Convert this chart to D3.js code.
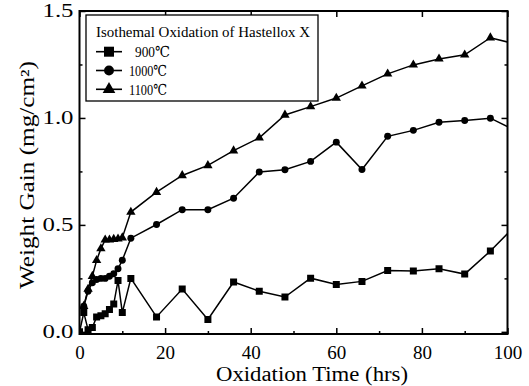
<!DOCTYPE html>
<html><head><meta charset="utf-8">
<script src="https://cdn.jsdelivr.net/npm/d3@7"></script>
<style>body{margin:0;background:#fff}svg{display:block}svg text{fill:#000}</style>
</head><body><div id="chart"></div>
<script>
const times900 = [0,1,2,3,4,5,6,7,8,9,10,12,18,24,30,36,42,48,54,60,66,72,78,84,90,96,102];
const values900 = [0,0.09,0.01,0.02,0.07,0.075,0.085,0.105,0.13,0.24,0.09,0.25,0.07,0.20,0.058,0.233,0.19,0.163,0.251,0.221,0.236,0.287,0.284,0.295,0.270,0.378,0.50];
const times1000 = [1,2,3,4,5,6,7,8,9,10,12,18,24,30,36,42,48,54,60,66,72,78,84,90,96,102];
const values1000 = [0.12,0.19,0.23,0.245,0.25,0.25,0.26,0.272,0.295,0.335,0.438,0.502,0.571,0.571,0.625,0.747,0.758,0.797,0.887,0.759,0.914,0.942,0.98,0.988,0.999,0.94];
const times1100 = [1,2,3,4,5,6,7,8,9,10,12,18,24,30,36,42,48,54,60,66,72,78,84,90,96,102];
const values1100 = [0.12,0.2,0.26,0.334,0.389,0.43,0.43,0.433,0.435,0.44,0.56,0.653,0.731,0.778,0.847,0.907,1.014,1.053,1.093,1.15,1.206,1.248,1.276,1.295,1.375,1.345];
const seriesNames = ["900\u2103","1000\u2103","1100\u2103"];
const seriesSymbols = ["square","circle","triangle"];
const xTicks = [0,20,40,60,80,100];
const yTicks = [0,0.5,1.0,1.5];
const yMinorTicks = [0.25,0.75,1.25];
const xMinorTicks = [10,30,50,70,90];
const legendTitle = "Isothemal Oxidation of Hastellox X";
const xTitle = "Oxidation Time (hrs)";
const yTitle = "Weight Gain (mg/cm\u00B2)";

const FONT = "'Liberation Serif','Times New Roman',Times,'DejaVu Serif',serif";
const W = 529, H = 386;
const m = {left:79.5, top:11, right:21.5, bottom:52};
const svg = d3.select("#chart").append("svg").attr("width",W).attr("height",H);
const x = d3.scaleLinear().domain([0,100]).range([m.left, W-m.right]);
const y = d3.scaleLinear().domain([-0.01,1.5]).range([H-m.bottom, m.top]);

svg.append("clipPath").attr("id","clip").append("rect")
  .attr("x",x(0)).attr("y",y(1.5)).attr("width",x(100)-x(0)).attr("height",y(-0.01)-y(1.5));

const series = [
  {t:times900, v:values900},
  {t:times1000, v:values1000},
  {t:times1100, v:values1100}
];
const symMap = {square:d3.symbolSquare, circle:d3.symbolCircle, triangle:d3.symbolTriangle};
const symSize = {square:49, circle:38, triangle:38};

const line = d3.line().x(d=>x(d[0])).y(d=>y(d[1]));
const g = svg.append("g").attr("clip-path","url(#clip)");
series.forEach((s,i)=>{
  const pts = s.t.map((t,j)=>[t,s.v[j]]);
  g.append("path").datum(pts).attr("d",line).attr("fill","none").attr("stroke","#000").attr("stroke-width",1.5);
  g.selectAll(null).data(pts).enter().append("path")
    .attr("transform",d=>`translate(${x(d[0])},${y(d[1])})`)
    .attr("d",d3.symbol().type(symMap[seriesSymbols[i]]).size(symSize[seriesSymbols[i]]))
    .attr("fill","#000");
});

const axB = d3.axisBottom(x).tickValues(xTicks).tickSize(-6).tickPadding(12).tickFormat(d3.format("d"));
const axL = d3.axisLeft(y).tickValues(yTicks).tickSize(-6).tickPadding(6).tickFormat(d3.format(".1f"));
const gb = svg.append("g").attr("transform",`translate(0,${y(-0.01)})`).call(axB);
const gl = svg.append("g").attr("transform",`translate(${x(0)},0)`).call(axL);
svg.append("g").attr("transform",`translate(0,${y(-0.01)})`).call(d3.axisBottom(x).tickValues(xMinorTicks).tickSize(-3).tickFormat(""));
svg.append("g").attr("transform",`translate(${x(0)},0)`).call(d3.axisLeft(y).tickValues(yMinorTicks).tickSize(-3).tickFormat(""));
svg.append("g").attr("transform",`translate(${x(100)},0)`).call(d3.axisRight(y).tickValues(yTicks).tickSize(-6).tickFormat(""));
svg.append("g").attr("transform",`translate(${x(100)},0)`).call(d3.axisRight(y).tickValues(yMinorTicks).tickSize(-3).tickFormat(""));
svg.append("g").attr("transform",`translate(0,${y(1.5)})`).call(d3.axisTop(x).tickValues(xTicks).tickSize(-6).tickFormat(""));
svg.selectAll(".domain").remove();
svg.selectAll(".tick line").attr("stroke","#000").attr("stroke-width",1.5);
svg.selectAll("g").attr("font-family",FONT);
gb.selectAll("text").attr("font-size",19).attr("fill","#000").style("font-family",FONT);
gl.selectAll("text").attr("font-size",18).attr("fill","#000").style("font-family",FONT)
  .attr("textLength",31).attr("lengthAdjust","spacingAndGlyphs");

svg.append("rect").attr("x",x(0)).attr("y",y(1.5)).attr("width",x(100)-x(0)).attr("height",y(-0.01)-y(1.5))
  .attr("fill","none").attr("stroke","#000").attr("stroke-width",2);

svg.append("text").attr("x",312).attr("y",381).attr("text-anchor","middle").attr("font-size",20).attr("fill","#000")
  .attr("textLength",192).attr("lengthAdjust","spacingAndGlyphs").style("font-family",FONT).text(xTitle);
svg.append("text").attr("transform",`translate(34,175) rotate(-90)`).attr("text-anchor","middle").attr("font-size",20).attr("fill","#000")
  .attr("textLength",228).attr("lengthAdjust","spacingAndGlyphs").style("font-family",FONT).text(yTitle);

const lg = svg.append("g");
lg.append("rect").attr("x",86).attr("y",15).attr("width",232).attr("height",86).attr("fill","#fff").attr("stroke","#000").attr("stroke-width",1.3);
lg.append("text").attr("x",96).attr("y",37).attr("font-size",15.5).attr("fill","#000")
  .attr("textLength",214).attr("lengthAdjust","spacingAndGlyphs").style("font-family",FONT).text(legendTitle);
const legSize = {square:100, circle:78, triangle:70};
seriesNames.forEach((n,i)=>{
  const yy = 51.7 + i*18.8;
  lg.append("line").attr("x1",96).attr("x2",122).attr("y1",yy).attr("y2",yy).attr("stroke","#000").attr("stroke-width",1.6);
  lg.append("path").attr("transform",`translate(109,${yy})`).attr("d",d3.symbol().type(symMap[seriesSymbols[i]]).size(legSize[seriesSymbols[i]])).attr("fill","#000");
  lg.append("text").attr("x", i===0?135:129).attr("y",yy+5.5).attr("font-size",15).attr("fill","#000")
    .attr("textLength", i===0?35:38).attr("lengthAdjust","spacingAndGlyphs").style("font-family",FONT).text(n);
});
</script></body></html>
